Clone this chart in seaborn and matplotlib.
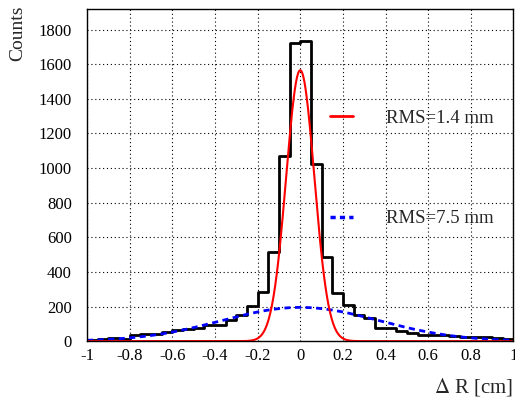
"""Distribuição de Delta R: histograma com dois ajustes gaussianos."""

import numpy as np
import pandas as pd
import seaborn as sns
import matplotlib.pyplot as plt
from matplotlib.lines import Line2D
from matplotlib.ticker import MultipleLocator

# bins de 0.05 cm entre -1 e 1
bin_edges = [round(-1 + 0.05 * i, 2) for i in range(41)]
counts = [7, 11, 16, 15, 35, 43, 43, 50, 65, 71, 76, 93, 93, 122, 149, 202,
          285, 517, 1072, 1723, 1732, 1024, 488, 276, 211, 150, 136, 74, 74,
          60, 49, 38, 33, 38, 28, 25, 24, 24, 18, 12]

# parâmetros dos ajustes (amplitude, média, sigma em cm)
fit_narrow = (1565, 0.0, 0.066)
fit_wide = (195, 0.0, 0.37)
legend_labels = ['RMS=1.4 mm', 'RMS=7.5 mm']

x_ticks = [-1, -0.8, -0.6, -0.4, -0.2, 0, 0.2, 0.4, 0.6, 0.8, 1]
x_ticklabels = ['-1', '-0.8', '-0.6', '-0.4', '-0.2', '0', '0.2', '0.4', '0.6', '0.8', '1']
y_ticks = [0, 200, 400, 600, 800, 1000, 1200, 1400, 1600, 1800]


def gauss(x, par):
    a, m, s = par
    return a * np.exp(-0.5 * ((x - m) / s) ** 2)


sns.set_theme(style='white')
plt.rcParams['font.family'] = ['Liberation Serif', 'DejaVu Serif']
plt.rcParams['mathtext.fontset'] = 'stix'

fig = plt.figure(figsize=(5.15, 3.99), dpi=100)
ax = fig.add_axes([0.169, 0.145, 0.828, 0.833])

centers = [(bin_edges[i] + bin_edges[i + 1]) / 2 for i in range(len(counts))]
df = pd.DataFrame({'dr': centers, 'n': counts})
sns.histplot(data=df, x='dr', weights='n', bins=bin_edges, element='step',
             fill=False, color='black', linewidth=2, ax=ax)

xs = np.linspace(-1, 1, 801)
curves = pd.DataFrame({'x': xs, 'narrow': gauss(xs, fit_narrow), 'wide': gauss(xs, fit_wide)})
sns.lineplot(data=curves, x='x', y='wide', color='#0000ff', linewidth=2, ax=ax)
ax.lines[-1].set_dashes((2.2, 1.6))
sns.lineplot(data=curves, x='x', y='narrow', color='#ff0000', linewidth=1.5, ax=ax)

ax.set_xlim(-1, 1)
ax.set_ylim(0, 1920)
ax.set_xticks(x_ticks)
ax.set_xticklabels(x_ticklabels)
ax.set_yticks(y_ticks)
ax.xaxis.set_minor_locator(MultipleLocator(0.05))
ax.yaxis.set_minor_locator(MultipleLocator(50))
ax.tick_params(which='both', direction='in', top=False, right=False, labelsize=12, colors='black')
ax.tick_params(which='major', length=6, width=0.8)
ax.tick_params(which='minor', length=3, width=0.8)
ax.tick_params(axis='x', pad=5)
ax.tick_params(axis='y', pad=11)
ax.grid(True, which='major', color='black', linestyle=(0, (1, 2.5)), linewidth=0.8)
for sp in ax.spines.values():
    sp.set_color('black')
    sp.set_linewidth(1)

ax.set_xlabel('$\\Delta$ R [cm]', fontsize=15, loc='right')
ax.set_ylabel('Counts', fontsize=14, loc='top')
ax.xaxis.set_label_coords(1.0, -0.105)
ax.yaxis.set_label_coords(-0.143, 1.01)

handles = [Line2D([], [], color='#ff0000', linewidth=2),
           Line2D([], [], color='#0000ff', linewidth=2.5, dashes=(1.5, 1.2))]
ax.legend(handles, legend_labels, loc='center left', bbox_to_anchor=(0.57, 0.52),
          frameon=False, fontsize=13.5, handlelength=1.2, handletextpad=1.8,
          labelspacing=4.45, borderpad=0, borderaxespad=0)

fig.savefig('out.png', dpi=100)
